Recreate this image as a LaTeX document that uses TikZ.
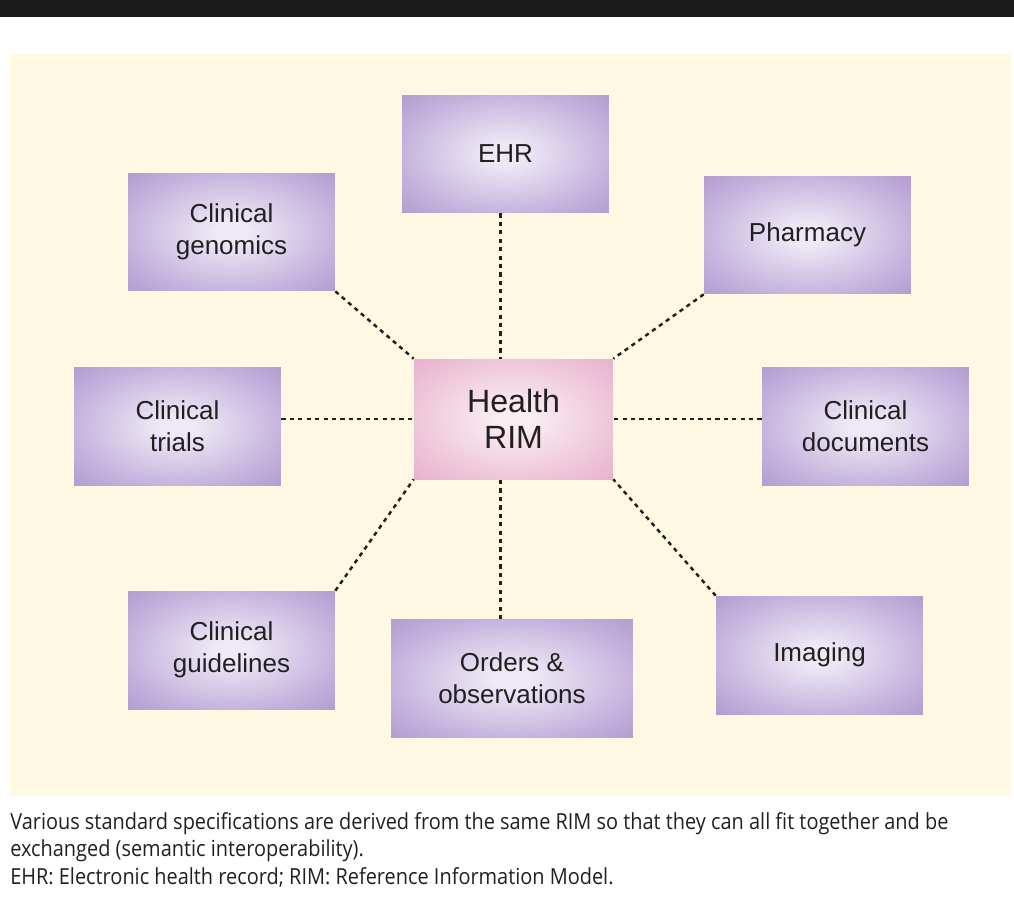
\documentclass[tikz,border=0pt]{standalone}
\usepackage{fontspec}
\setmainfont{Liberation Sans}
\newfontfamily\notefont[FakeStretch=0.9]{Open Sans}
\usepackage{tikz}
\usetikzlibrary{calc}
\definecolor{ink}{HTML}{231F20}
\definecolor{panel}{HTML}{FFF8E3}
\definecolor{bar}{HTML}{1B1B1B}
\definecolor{lilacin}{HTML}{EEE9F6}
\definecolor{lilacmid}{HTML}{C3B1DC}
\definecolor{lilacout}{HTML}{A48AC4}
\definecolor{rosein}{HTML}{FAEDF3}
\definecolor{rosemid}{HTML}{EDC3D7}
\definecolor{roseout}{HTML}{E3A2C1}
\pgfdeclareradialshading{lilacglow}{\pgfpoint{0bp}{0bp}}{color(0bp)=(lilacin); color(4bp)=(lilacin); color(26bp)=(lilacmid); color(44bp)=(lilacout); color(50bp)=(lilacout)}
\pgfdeclareradialshading{roseglow}{\pgfpoint{0bp}{0bp}}{color(0bp)=(rosein); color(4bp)=(rosein); color(26bp)=(rosemid); color(44bp)=(roseout); color(50bp)=(roseout)}
\tikzset{
  topic/.style={rectangle, shading=lilacglow, inner sep=0pt, align=center,
    minimum width=4.14cm, minimum height=2.36cm, text=ink,
    font=\fontsize{14.8}{18.1}\selectfont},
  hub/.style={rectangle, shading=roseglow, inner sep=0pt, align=center,
    minimum width=3.98cm, minimum height=2.4cm, text=ink,
    font=\fontsize{18.3}{20.4}\selectfont},
  link/.style={draw=ink, line width=1.4pt, dash pattern=on 2.4pt off 2.4pt},
  note/.style={text=ink, align=left, inner sep=0pt,
    font=\notefont\fontsize{12.6}{15.6}\selectfont},
}

\begin{document}
\begin{tikzpicture}[x=0.02cm, y=-0.02cm]
  \useasboundingbox (0,0) rectangle (1014,897);
  \fill[bar] (0,0) rectangle (1014,17);
  \fill[panel] (10,54) rectangle (1011,796);

  \node[hub] (rim) at (513.5,419) {Health\\RIM};
  \coordinate (spine) at ($(rim.center)+(-13,0)$);
  \foreach \name/\px/\py/\txt in {
      ehr/505.5/154/{EHR},
      genomics/231.5/232/{Clinical\\genomics},
      pharmacy/807.5/235/{Pharmacy},
      trials/177.5/426/{Clinical\\trials},
      docs/865.5/426/{Clinical\\documents},
      guidelines/231.5/650/{Clinical\\guidelines},
      imaging/819.5/655/{Imaging}}
    \node[topic] (\name) at (\px,\py) {\txt};
  \node[topic, minimum width=4.84cm] (orders) at (512,678.5) {Orders \&\\observations};

  % dotted spokes out of the hub
  \draw[link] (ehr.south -| spine) -- (rim.north -| spine);
  \draw[link] (orders.north -| spine) -- (rim.south -| spine);
  \draw[link] (genomics.south east) -- (rim.north west);
  \draw[link] (pharmacy.south west) -- (rim.north east);
  \draw[link] (rim.west -| trials.east) -- (rim.west);
  \draw[link] (rim.east -| docs.west) -- (rim.east);
  \draw[link] (guidelines.north east) -- (rim.south west);
  \draw[link] (imaging.north west) -- (rim.south east);

  \node[note, anchor=north west] (caption) at (10,812)
    {Various standard specifications are derived from the same RIM so that they can all fit together and be\\
     exchanged (semantic interoperability).\\
     EHR: Electronic health record; RIM: Reference Information Model.};
\end{tikzpicture}
\end{document}
